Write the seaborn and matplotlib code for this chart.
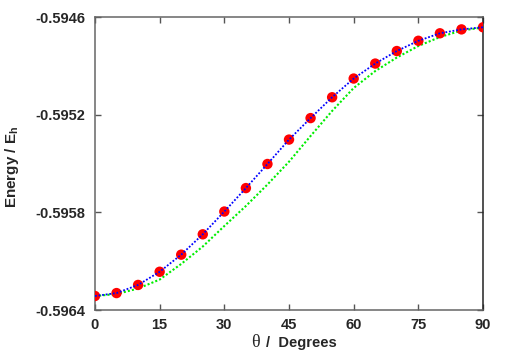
import numpy as np
import pandas as pd
import seaborn as sns
import matplotlib
matplotlib.use('Agg')
import matplotlib.pyplot as plt

# data
theta = [0, 5, 10, 15, 20, 25, 30, 35, 40, 45, 50, 55, 60, 65, 70, 75, 80, 85, 90]
energy_calc = [-0.596314, -0.596296, -0.596246, -0.596165, -0.596060, -0.595935,
               -0.595795, -0.595651, -0.595503, -0.595353, -0.595221, -0.595093,
               -0.594978, -0.594886, -0.594809, -0.594746, -0.594700, -0.594676,
               -0.594663]
energy_model = [-0.596314, -0.596302, -0.596268, -0.596213, -0.596117, -0.596010,
                -0.595884, -0.595761, -0.595629, -0.595489, -0.595331, -0.595177,
                -0.595036, -0.594932, -0.594849, -0.594778, -0.594723, -0.594683,
                -0.594664]
x_ticks = [0, 15, 30, 45, 60, 75, 90]
y_ticks = [-0.5964, -0.5958, -0.5952, -0.5946]

df = pd.DataFrame({'theta': theta, 'calc': energy_calc, 'model': energy_model})

sns.set_style('ticks')
plt.rcParams['font.family'] = ['Liberation Sans', 'DejaVu Sans']
plt.rcParams['mathtext.fontset'] = 'custom'
plt.rcParams['mathtext.rm'] = 'Liberation Sans'
plt.rcParams['mathtext.bf'] = 'Liberation Sans:bold'

fig = plt.figure(figsize=(5.09, 3.56), dpi=100)
ax = fig.add_axes([0.1866, 0.1292, 0.7624, 0.823])

sns.lineplot(data=df, x='theta', y='model', ax=ax, color='#00ee00',
             linestyle=(0, (1, 1)), linewidth=1.5, zorder=2)
sns.scatterplot(data=df, x='theta', y='calc', ax=ax, color='#ff0000',
                s=56, edgecolor='none', zorder=3)
sns.lineplot(data=df, x='theta', y='calc', ax=ax, color='#0000ff',
             linestyle=(0, (1, 1)), linewidth=1.3, zorder=4)

ax.set_xlim(0, 90)
ax.set_ylim(-0.5964, -0.5946)
ax.set_xticks(x_ticks)
ax.set_yticks(y_ticks)
ax.set_xticklabels([str(t) for t in x_ticks], fontweight='bold', fontsize=10.5)
ax.set_yticklabels(['%.4f' % t for t in y_ticks], fontweight='bold', fontsize=10.5)
ax.tick_params(direction='in', length=4, width=1, color='#555555',
               top=True, right=True, pad=6)
ax.tick_params(axis='y', pad=7)

for side in ['left', 'top', 'bottom']:
    ax.spines[side].set_color('#666666')
ax.spines['right'].set_color('#222222')
for side in ax.spines:
    ax.spines[side].set_linewidth(1.1)

ax.set_xlabel('')
ax.set_ylabel(r'Energy / E$_{\mathbf{h}}$', fontweight='bold', fontsize=11)
ax.yaxis.set_label_coords(-0.19, 0.49)

fig.text(0.4925, 0.026, 'θ', family=['Liberation Serif', 'DejaVu Serif'],
         fontsize=13, ha='left', va='baseline')
fig.text(0.522, 0.026, '/  Degrees', fontweight='bold', fontsize=10.5,
         ha='left', va='baseline')

fig.savefig('out.png', dpi=100)
